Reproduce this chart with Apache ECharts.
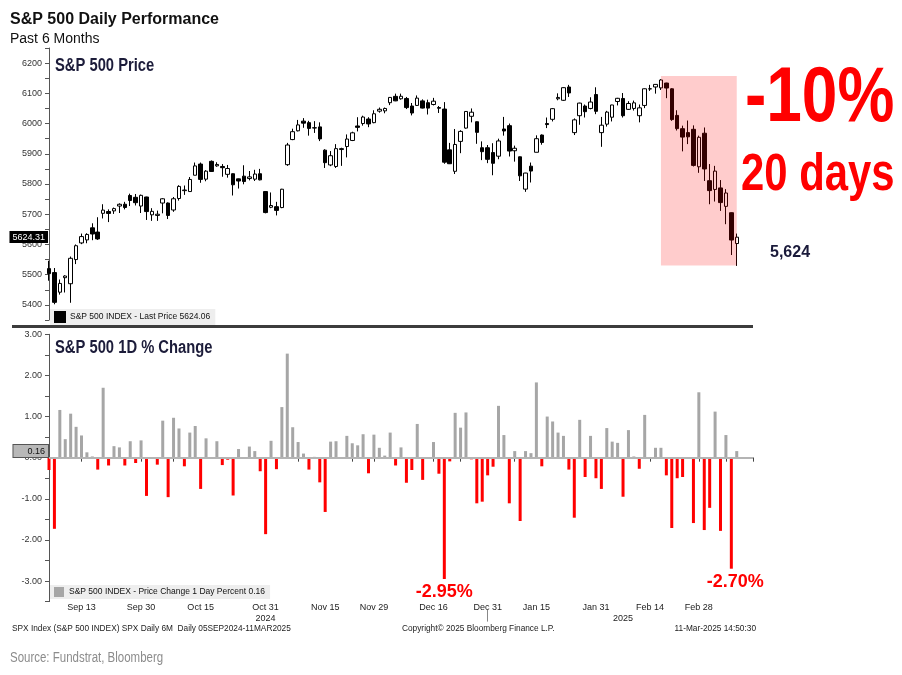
<!DOCTYPE html>
<html><head><meta charset="utf-8">
<script src="https://cdn.jsdelivr.net/npm/echarts/dist/echarts.min.js"></script>
<style>html,body{margin:0;padding:0;background:#fff}#c{width:902px;height:675px}</style>
</head><body><div id="c"></div>
<script>
// ---------- DATA ----------
const dates = [
 '2024-09-05','2024-09-06','2024-09-09','2024-09-10','2024-09-11','2024-09-12','2024-09-13','2024-09-16','2024-09-17','2024-09-18','2024-09-19','2024-09-20','2024-09-23','2024-09-24','2024-09-25','2024-09-26','2024-09-27','2024-09-30',
 '2024-10-01','2024-10-02','2024-10-03','2024-10-04','2024-10-07','2024-10-08','2024-10-09','2024-10-10','2024-10-11','2024-10-14','2024-10-15','2024-10-16','2024-10-17','2024-10-18','2024-10-21','2024-10-22','2024-10-23','2024-10-24','2024-10-25','2024-10-28','2024-10-29','2024-10-30','2024-10-31',
 '2024-11-01','2024-11-04','2024-11-05','2024-11-06','2024-11-07','2024-11-08','2024-11-11','2024-11-12','2024-11-13','2024-11-14','2024-11-15','2024-11-18','2024-11-19','2024-11-20','2024-11-21','2024-11-22','2024-11-25','2024-11-26','2024-11-27','2024-11-29',
 '2024-12-02','2024-12-03','2024-12-04','2024-12-05','2024-12-06','2024-12-09','2024-12-10','2024-12-11','2024-12-12','2024-12-13','2024-12-16','2024-12-17','2024-12-18','2024-12-19','2024-12-20','2024-12-23','2024-12-24','2024-12-26','2024-12-27','2024-12-30','2024-12-31',
 '2025-01-02','2025-01-03','2025-01-06','2025-01-07','2025-01-08','2025-01-10','2025-01-13','2025-01-14','2025-01-15','2025-01-16','2025-01-17','2025-01-21','2025-01-22','2025-01-23','2025-01-24','2025-01-27','2025-01-28','2025-01-29','2025-01-30','2025-01-31',
 '2025-02-03','2025-02-04','2025-02-05','2025-02-06','2025-02-07','2025-02-10','2025-02-11','2025-02-12','2025-02-13','2025-02-14','2025-02-18','2025-02-19','2025-02-20','2025-02-21','2025-02-24','2025-02-25','2025-02-26','2025-02-27','2025-02-28',
 '2025-03-03','2025-03-04','2025-03-05','2025-03-06','2025-03-07','2025-03-10','2025-03-11'
];
const padDays = ['2025-03-12','2025-03-13','2025-03-14'];

const opens = [
 5520,5507,5442,5490,5470,5550,5605,5615,5655,5641,5703,5709,5711,5727,5733,5762,5756,5727,
 5757,5698,5696,5737,5737,5714,5752,5778,5775,5829,5866,5816,5875,5860,5858,5832,5834,5817,5826,5818,5816,5834,5775,
 5723,5725,5722,5864,5947,5976,6008,6003,5986,5989,5912,5863,5858,5914,5924,5944,5992,6000,6015,6003,
 6041,6042,6069,6090,6082,6083,6058,6060,6075,6069,6063,6053,6048,5913,5842,5941,5985,6024,6006,5920,5920,
 5904,5892,5982,5993,5910,5890,5783,5859,5905,5962,6000,6014,6082,6077,6121,5970,6026,6058,6050,6096,
 5970,5998,6021,6073,6083,6047,6050,6026,6060,6115,6121,6118,6134,6115,6027,5983,5970,5981,5857,
 5968,5811,5782,5787,5726,5705,5603
];
const highs = [
 5546,5522,5484,5498,5560,5600,5636,5637,5670,5690,5733,5716,5722,5736,5741,5768,5767,5765,
 5758,5720,5712,5753,5739,5757,5796,5795,5823,5871,5871,5846,5878,5872,5866,5863,5835,5818,5862,5843,5847,5850,5776,
 5772,5741,5784,5936,5983,6012,6018,6009,6008,6004,5915,5909,5932,5920,5964,5973,6021,6026,6021,6044,
 6053,6053,6087,6099,6099,6088,6068,6093,6080,6079,6085,6058,6071,5936,5982,5978,6041,6050,6007,5941,5929,
 5935,5950,6022,6000,5927,5891,5837,5871,5961,5964,6020,6051,6100,6120,6128,6017,6069,6063,6087,6120,
 6022,6042,6062,6085,6101,6074,6076,6063,6116,6128,6130,6147,6135,6117,6044,5993,6010,5994,5960,
 5987,5866,5860,5813,5783,5706,5636
];
const lows = [
 5480,5402,5434,5441,5407,5535,5601,5604,5614,5615,5686,5674,5701,5704,5716,5727,5729,5704,
 5681,5678,5678,5703,5684,5708,5745,5764,5775,5829,5804,5809,5840,5857,5824,5821,5762,5785,5799,5812,5810,5812,5703,
 5720,5696,5720,5860,5945,5974,5986,5960,5969,5942,5853,5859,5853,5860,5888,5942,5974,5993,5988,6001,
 6036,6034,6061,6074,6079,6048,6027,6058,6050,6030,6060,6035,5867,5866,5833,5902,5983,6004,5933,5879,5869,
 5829,5882,5960,5891,5874,5810,5774,5805,5905,5930,5985,6007,6077,6075,6088,5962,5996,6020,6047,6031,
 5923,5990,6007,6060,6020,6045,6043,6004,6051,6108,6099,6111,6084,6009,5977,5908,5932,5858,5837,
 5810,5733,5742,5711,5667,5565,5529
];
const closes = [
 5503.41,5408.42,5471.05,5495.52,5554.13,5595.76,5626.02,5633.09,5634.58,5618.26,5713.64,5702.55,5718.57,5732.93,5722.26,5745.37,5738.17,5762.48,
 5708.75,5709.54,5699.94,5751.07,5695.94,5751.13,5792.04,5780.05,5815.03,5859.85,5815.26,5842.47,5841.47,5864.67,5853.98,5851.20,5797.42,5809.86,5808.12,5823.52,5832.92,5813.67,5705.45,
 5728.80,5712.69,5782.76,5929.04,5973.10,5995.54,6001.35,5983.99,5985.38,5949.17,5870.62,5893.62,5916.98,5917.11,5948.71,5969.34,5987.37,6021.63,5998.74,6032.38,
 6047.15,6049.88,6086.49,6075.11,6090.27,6052.85,6034.91,6084.19,6051.25,6051.09,6074.08,6050.61,5872.16,5867.08,5930.85,5974.07,6040.04,6037.59,5970.84,5906.94,5881.63,
 5868.55,5942.47,5975.38,5909.03,5918.25,5827.04,5836.22,5842.91,5949.91,5937.34,5996.66,6049.24,6086.37,6118.71,6101.24,6012.28,6067.70,6039.31,6071.17,6040.53,
 5994.57,6037.88,6061.48,6083.57,6025.99,6066.44,6068.50,6051.97,6115.07,6114.63,6129.58,6144.15,6117.52,6013.13,5983.25,5955.25,5956.06,5861.57,5954.50,
 5849.72,5778.15,5842.63,5738.52,5770.20,5614.56,5624.06
];
const pctChange = [
 -0.30,-1.73,1.16,0.45,1.07,0.75,0.54,0.13,0.03,-0.29,1.70,-0.19,0.28,0.25,-0.19,0.40,-0.13,0.42,
 -0.93,0.01,-0.17,0.90,-0.96,0.97,0.71,-0.21,0.61,0.77,-0.76,0.47,-0.02,0.40,-0.18,-0.05,-0.92,0.21,-0.03,0.27,0.16,-0.33,-1.86,
 0.41,-0.28,1.23,2.53,0.74,0.38,0.10,-0.29,0.02,-0.60,-1.32,0.39,0.40,0.00,0.53,0.35,0.30,0.57,-0.38,0.56,
 0.24,0.05,0.61,-0.19,0.25,-0.61,-0.30,0.82,-0.54,-0.00,0.38,-0.39,-2.95,-0.09,1.09,0.73,1.10,-0.04,-1.11,-1.07,-0.43,
 -0.22,1.26,0.55,-1.11,0.16,-1.54,0.16,0.11,1.83,-0.21,1.00,0.88,0.61,0.53,-0.29,-1.46,0.92,-0.47,0.53,-0.50,
 -0.76,0.72,0.39,0.36,-0.95,0.67,0.03,-0.27,1.04,-0.01,0.24,0.24,-0.43,-1.71,-0.50,-0.47,0.01,-1.59,1.59,
 -1.76,-1.22,1.12,-1.78,0.55,-2.70,0.16
];

const xTickLabels = {
 '2024-09-13':'Sep 13','2024-09-30':'Sep 30','2024-10-15':'Oct 15','2024-10-31':'Oct 31',
 '2024-11-15':'Nov 15','2024-11-29':'Nov 29','2024-12-16':'Dec 16','2024-12-31':'Dec 31',
 '2025-01-15':'Jan 15','2025-01-31':'Jan 31','2025-02-14':'Feb 14','2025-02-28':'Feb 28'
};
const xTickMarks = [
 '2024-09-06','2024-09-13','2024-09-20','2024-09-30','2024-10-08','2024-10-15','2024-10-23','2024-10-31',
 '2024-11-08','2024-11-15','2024-11-22','2024-11-29','2024-12-09','2024-12-16','2024-12-23','2024-12-31',
 '2025-01-08','2025-01-16','2025-01-24','2025-01-31','2025-02-07','2025-02-14','2025-02-21','2025-02-28',
 '2025-03-07','2025-03-14'
];
const yearLabels = {'2024-10-31':'2024','2025-02-07':'2025'};
const yearDivider = '2024-12-31';

const priceTicks = {min:5350, max:6250, step:50, labelEvery:100};
const pctTicks = {min:-3.5, max:3.0, step:0.5};

const lastPriceTag = 5624.31;
const lastChangeTag = 0.16;
const candleName = 'S&P 500 INDEX - Last Price 5624.06';
const barName = 'S&P 500 INDEX - Price Change 1 Day Percent 0.16';
const boxFrom = ['2025-02-19', 6157];
const boxTo = ['2025-03-11', 5530];
const callouts = ['2024-12-18','2025-03-10'];

// ---------- CHART ----------
const FONT = '"Liberation Sans", Arial, sans-serif';
const NARROW_SCALE = 0.82; // emulate a condensed bold face
const cats = dates.concat(padDays);
const tickSet = new Set(xTickMarks);
const candleData = dates.map((d,i)=>[opens[i], closes[i], lows[i], highs[i]]);
const barData = pctChange.map(v=>({value:v, itemStyle:{color: v<0 ? '#ff0000' : '#a6a6a6'}}));

const chart = echarts.init(document.getElementById('c'), null, {renderer:'canvas'});
const axisText = {fontSize:9, color:'#333', fontFamily:FONT};

function txt(x, y, text, font, fill, extra) {
  return Object.assign({type:'text', x:x, y:y, silent:true,
    style:{text:text, font:font, fill:fill, textVerticalAlign:'middle'}}, extra||{});
}

chart.setOption({
 animation:false,
 backgroundColor:'#ffffff',
 grid:[
  {left:49, right:149, top:48, bottom:355},
  {left:49, right:149, top:334.3, bottom:73.4}
 ],
 xAxis:[
  {gridIndex:0, type:'category', data:cats, boundaryGap:false, show:false},
  {gridIndex:1, type:'category', data:cats, boundaryGap:false,
   axisLine:{lineStyle:{color:'#8c8c8c', width:1}},
   axisTick:{interval:(i,v)=>tickSet.has(v), length:4, lineStyle:{color:'#444'}},
   axisLabel:{interval:(i,v)=>v in xTickLabels, formatter:v=>xTickLabels[v]||'', margin:1, fontSize:9, color:'#222', fontFamily:FONT},
   splitLine:{show:false}},
  {gridIndex:1, type:'category', data:cats, boundaryGap:false, position:'bottom', offset:8,
   axisLine:{show:false},
   axisTick:{show:true, interval:(i,v)=>v===yearDivider, length:12, lineStyle:{color:'#888'}},
   axisLabel:{interval:(i,v)=>v in yearLabels, formatter:v=>yearLabels[v]||'', margin:4, fontSize:9, color:'#222', fontFamily:FONT},
   splitLine:{show:false}}
 ],
 yAxis:[
  {gridIndex:0, type:'value', min:priceTicks.min, max:priceTicks.max, interval:priceTicks.step,
   axisLine:{show:true, lineStyle:{color:'#555'}},
   axisTick:{show:true, length:4, lineStyle:{color:'#555'}},
   axisLabel:Object.assign({margin:7, formatter:v=> v % priceTicks.labelEvery === 0 ? String(v) : ''}, axisText),
   splitLine:{show:false}},
  {gridIndex:1, type:'value', min:pctTicks.min, max:pctTicks.max, interval:pctTicks.step,
   axisLine:{show:true, lineStyle:{color:'#555'}},
   axisTick:{show:true, length:4, lineStyle:{color:'#555'}},
   axisLabel:Object.assign({margin:7, formatter:v=> Number.isInteger(v) ? v.toFixed(2) : ''}, axisText),
   splitLine:{show:false}}
 ],
 legend:[
  {data:[{name:candleName, itemStyle:{color:'#000', borderColor:'#000'}}], left:50, top:309,
   icon:'rect', itemWidth:10, itemHeight:10, itemGap:4, selectedMode:false, backgroundColor:'#eeeeee', padding:[2,5,2,4],
   textStyle:{fontSize:8.5, color:'#111', fontFamily:FONT}},
  {data:[{name:barName, itemStyle:{color:'#a6a6a6'}}], left:50, top:585,
   icon:'rect', itemWidth:10, itemHeight:10, itemGap:4, selectedMode:false, backgroundColor:'#eeeeee', padding:[2,5,2,4],
   textStyle:{fontSize:8.5, color:'#111', fontFamily:FONT}}
 ],
 series:[
  {name:candleName, type:'candlestick', xAxisIndex:0, yAxisIndex:0, data:candleData,
   barWidth:4, clip:false,
   itemStyle:{color:'#ffffff', color0:'#000000', borderColor:'#000000', borderColor0:'#000000', borderWidth:1},
   markArea:{silent:true, z:6, itemStyle:{color:'rgba(255,0,0,0.2)'},
     data:[[{coord:boxFrom},{coord:boxTo}]]},
   markLine:{silent:true, symbol:['none','none'],
     data:[{yAxis:lastPriceTag, lineStyle:{color:'rgba(0,0,0,0)', width:1},
       label:{show:true, position:'start', distance:1, formatter:lastPriceTag.toFixed(2), color:'#fff', backgroundColor:'#000',
         padding:[2,3,1,3], fontSize:9, fontFamily:FONT, opacity:1}}]}
  },
  {name:barName, type:'bar', xAxisIndex:1, yAxisIndex:1, data:barData, barWidth:3,
   itemStyle:{color:'#a6a6a6'},
   markLine:{silent:true, symbol:['none','none'],
     data:[
      {yAxis:0, lineStyle:{color:'#b4b4b4', width:2, type:'solid'}, label:{show:false}},
      {yAxis:lastChangeTag, lineStyle:{color:'rgba(0,0,0,0)', width:1},
       label:{show:true, position:'start', distance:1, formatter:lastChangeTag.toFixed(2), color:'#111', backgroundColor:'#b8b8b8',
         borderColor:'#555', borderWidth:1, padding:[2,3,1,14], fontSize:9, fontFamily:FONT, opacity:1}}
     ]},
   markPoint:{silent:true, symbol:'circle', symbolSize:1, itemStyle:{color:'rgba(0,0,0,0)'},
     label:{show:true, position:'bottom', distance:4, color:'#ff0000', fontSize:18, fontWeight:'bold', fontFamily:FONT,
       formatter:p=>p.value},
     data:callouts.map((d,k)=>{const i=dates.indexOf(d); return {coord:[d, pctChange[i]], value:pctChange[i].toFixed(2)+'%', label:{offset:[k===1?4:0,0]}};})
   }
  }
 ],
 graphic:[
  {type:'rect', shape:{x:12, y:325, width:741, height:3}, style:{fill:'#3c3c3c'}, silent:true},
  txt(10, 20, 'S&P 500 Daily Performance', 'bold 16px '+FONT, '#111'),
  txt(10, 39, 'Past 6 Months', '14px '+FONT, '#111'),
  txt(55, 66, 'S&P 500 Price', 'bold 18px '+FONT, '#1c1c3a', {scaleX:NARROW_SCALE}),
  txt(55, 348, 'S&P 500 1D % Change', 'bold 18px '+FONT, '#1c1c3a', {scaleX:NARROW_SCALE}),
  txt(745, 99, '-10%', 'bold 78px '+FONT, '#ff0000', {scaleX:NARROW_SCALE}),
  txt(741, 176, '20 days', 'bold 51px '+FONT, '#ff0000', {scaleX:NARROW_SCALE}),
  txt(770, 253, '5,624', 'bold 16px '+FONT, '#1a1a3a'),
  txt(12, 629, 'SPX Index (S&P 500 INDEX) SPX Daily 6M  Daily 05SEP2024-11MAR2025', '8.3px '+FONT, '#222'),
  txt(402, 629, 'Copyright\u00a9 2025 Bloomberg Finance L.P.', '8.3px '+FONT, '#222'),
  {type:'text', x:756, y:629, silent:true, style:{text:'11-Mar-2025 14:50:30', font:'8.3px '+FONT, fill:'#222', textAlign:'right', textVerticalAlign:'middle'}},
  txt(10, 658, 'Source: Fundstrat, Bloomberg', '14px '+FONT, '#8c8c8c', {scaleX:NARROW_SCALE})
 ]
});
</script>
</body></html>
